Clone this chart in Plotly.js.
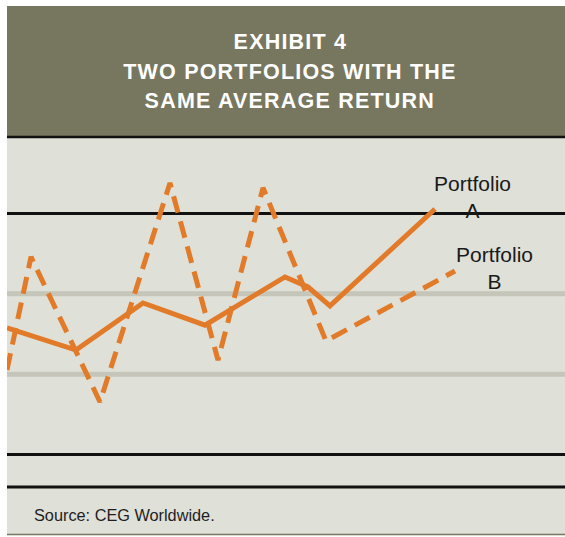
<!DOCTYPE html>
<html>
<head>
<meta charset="utf-8">
<script src="https://cdn.plot.ly/plotly-3.0.1.min.js"></script>
<style>
  html, body { margin: 0; padding: 0; background: #ffffff; }
  #chart { width: 565px; height: 537px; }
  .annotation[data-index="0"] text,
  .annotation[data-index="1"] text,
  .annotation[data-index="2"] text { letter-spacing: 1.2px; }
</style>
</head>
<body>
<div id="chart"></div>
<script>
// ---- data ----
const titleLines = ["EXHIBIT 4", "TWO PORTFOLIOS WITH THE", "SAME AVERAGE RETURN"];
const seriesNames = ["Portfolio<br>A", "Portfolio<br>B"];
const periodsA = [0, 69, 136, 198, 278, 301, 323, 428];
const returnsA = [0.575, 0.30, 0.886, 0.61, 1.21, 1.085, 0.85, 2.056];
const periodsB = [0, 24, 93, 163, 211, 256, 319, 448];
const returnsB = [0.052, 1.46, -0.347, 2.38, 0.176, 2.32, 0.413, 1.284];
const blackLevels = [2, -1];
const grayLevels = [1, 0];
const sourceText = "Source: CEG Worldwide.";

// ---- layout helpers (pixel -> paper) ----
const W = 565, H = 537;
const X = px => px / W;
const Y = py => 1 - py / H;

const orange = "#e17b29";
const olive = "#77765f";
const panelBg = "#dfe0d8";

const traces = [
  { x: periodsA, y: returnsA, mode: "lines", type: "scatter",
    line: { color: orange, width: 5, dash: "solid" }, hoverinfo: "skip" },
  { x: periodsB, y: returnsB, mode: "lines", type: "scatter",
    line: { color: orange, width: 5, dash: "17px,9px" }, hoverinfo: "skip" }
];

const shapes = [
  { type: "rect", xref: "paper", yref: "paper", x0: X(7), x1: 1, y0: Y(534), y1: Y(136),
    fillcolor: panelBg, line: { width: 0 }, layer: "below" },
  { type: "rect", xref: "paper", yref: "paper", x0: X(7), x1: 1, y0: Y(136), y1: Y(6),
    fillcolor: olive, line: { width: 0 }, layer: "below" },
  { type: "line", xref: "paper", yref: "paper", x0: X(7), x1: 1, y0: Y(137), y1: Y(137),
    line: { color: "#111111", width: 2.5 }, layer: "below" },
  { type: "line", xref: "paper", yref: "paper", x0: X(7), x1: 1, y0: Y(487), y1: Y(487),
    line: { color: "#111111", width: 3 }, layer: "below" },
  { type: "line", xref: "paper", yref: "paper", x0: X(7), x1: 1, y0: Y(534.5), y1: Y(534.5),
    line: { color: olive, width: 1.5 }, layer: "below" }
];
grayLevels.forEach(v => shapes.push({ type: "line", xref: "paper", yref: "y", x0: X(7), x1: 1,
  y0: v, y1: v, line: { color: "#c5c6b9", width: 5 }, layer: "below" }));
blackLevels.forEach(v => shapes.push({ type: "line", xref: "paper", yref: "y", x0: X(7), x1: 1,
  y0: v, y1: v, line: { color: "#111111", width: 3 }, layer: "below" }));

const titleY = [42, 72, 101];
const annotations = titleLines.map((t, i) => ({
  text: t, xref: "paper", yref: "paper", x: X(290), y: Y(titleY[i]),
  xanchor: "center", yanchor: "middle", showarrow: false,
  font: { family: "Liberation Sans, Arial, sans-serif", size: 21.5, color: "#ffffff", weight: 700 }
}));
annotations.push(
  { text: seriesNames[0], xref: "paper", yref: "paper", x: X(472), y: Y(197),
    xanchor: "center", yanchor: "middle", showarrow: false, align: "center",
    font: { family: "Liberation Sans, Arial, sans-serif", size: 21, color: "#1a1a1a" } },
  { text: seriesNames[1], xref: "paper", yref: "paper", x: X(494), y: Y(268),
    xanchor: "center", yanchor: "middle", showarrow: false, align: "center",
    font: { family: "Liberation Sans, Arial, sans-serif", size: 21, color: "#1a1a1a" } },
  { text: sourceText, xref: "paper", yref: "paper", x: X(32), y: Y(515),
    xanchor: "left", yanchor: "middle", showarrow: false,
    font: { family: "Liberation Sans, Arial, sans-serif", size: 16.3, color: "#1e1e1e" } }
);

const layout = {
  width: W, height: H,
  margin: { l: 0, r: 0, t: 0, b: 0, pad: 0 },
  paper_bgcolor: "#ffffff",
  plot_bgcolor: "rgba(0,0,0,0)",
  showlegend: false,
  xaxis: { domain: [X(7), 1], range: [0, 558], showgrid: false, zeroline: false,
           showticklabels: false, ticks: "", showline: false, fixedrange: true },
  yaxis: { domain: [Y(487), Y(138)], range: [-1.405, 2.94], showgrid: false, zeroline: false,
           showticklabels: false, ticks: "", showline: false, fixedrange: true },
  shapes: shapes,
  annotations: annotations
};

Plotly.newPlot("chart", traces, layout, { staticPlot: true, displayModeBar: false });
</script>
</body>
</html>
